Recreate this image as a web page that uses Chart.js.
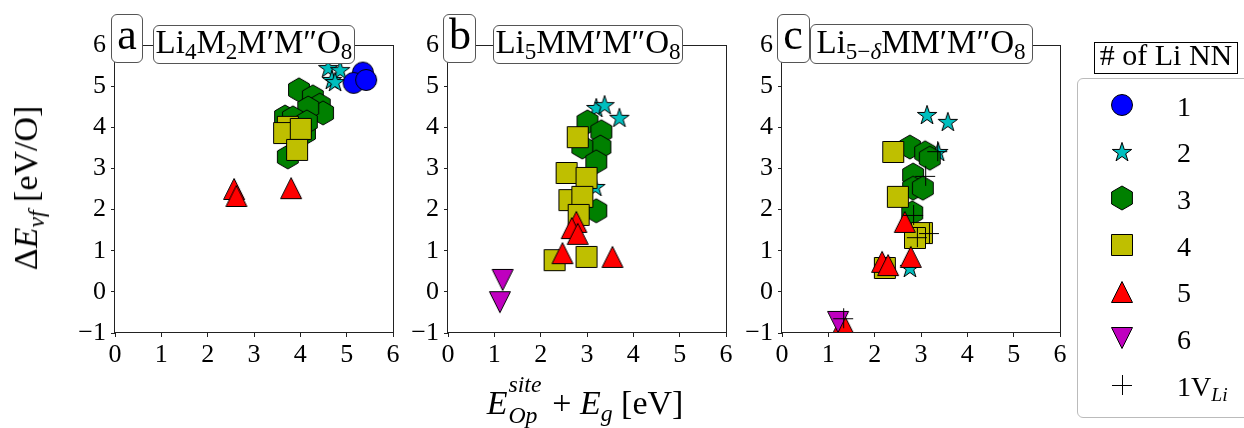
<!DOCTYPE html>
<html>
<head>
<meta charset="utf-8">
<script src="https://cdn.jsdelivr.net/npm/chart.js@4.4.1/dist/chart.umd.min.js"></script>
<style>
  html, body { margin: 0; padding: 0; background: #fff; }
  #fig { position: relative; width: 1244px; height: 428px; overflow: hidden; background: #fff;
         font-family: "Liberation Serif", "Times New Roman", serif; color: #000; }
  canvas.panel { position: absolute; top: 0; }
  .box { position: absolute; box-sizing: border-box; background: #fff; border: 1px solid #555; border-radius: 6px; }
  .txt { position: absolute; line-height: 1; white-space: nowrap; font-family: "Liberation Serif", serif; }
  .ctr { transform: translateX(-50%); }
  .sb { font-size: 0.7em; vertical-align: -0.28em; line-height: 0; }
  .it { font-style: italic; }
  .stack { position: relative; display: inline-block; vertical-align: top; height: 1em; width: 38px; }
  .stack > span { position: absolute; left: 1px; font-size: 0.7em; font-style: italic; line-height: 1; }
  .icon { position: absolute; }
</style>
</head>
<body>
<div id="fig">
  <canvas id="pa" class="panel"></canvas>
  <canvas id="pb" class="panel"></canvas>
  <canvas id="pc" class="panel"></canvas>

  <!-- panel tags and composition titles -->
  <div class="box" style="left:111px;top:14px;width:32px;height:49px;"></div>
  <div class="txt ctr" style="left:127px;top:13px;font-size:44px;">a</div>
  <div class="box" style="left:153px;top:25px;width:202px;height:39px;"></div>
  <div class="txt ctr" style="left:254px;top:26px;font-size:33px;">Li<span class="sb">4</span>M<span class="sb">2</span>M′M″O<span class="sb">8</span></div>

  <div class="box" style="left:443px;top:14px;width:33px;height:49px;"></div>
  <div class="txt ctr" style="left:460px;top:13px;font-size:44px;">b</div>
  <div class="box" style="left:493px;top:25px;width:190px;height:39px;"></div>
  <div class="txt ctr" style="left:588px;top:26px;font-size:33px;">Li<span class="sb">5</span>MM′M″O<span class="sb">8</span></div>

  <div class="box" style="left:777px;top:14px;width:33px;height:49px;"></div>
  <div class="txt ctr" style="left:793px;top:13px;font-size:44px;">c</div>
  <div class="box" style="left:810px;top:24px;width:223px;height:40px;"></div>
  <div class="txt ctr" style="left:921px;top:26px;font-size:33px;">Li<span class="sb">5−<i>δ</i></span>MM′M″O<span class="sb">8</span></div>

  <!-- axis titles -->
  <div class="txt" id="ylab" style="left:26px;top:188px;font-size:34px;transform:translate(-50%,-50%) rotate(-90deg);">Δ<span class="it">E</span><span class="sb it">vf</span> [eV/O]</div>
  <div class="txt ctr" style="left:585px;top:386px;font-size:34px;"><span class="it">E</span><span class="stack"><span style="top:-13px;">site</span><span style="top:18px;">Op</span></span>&#8201;+ <span class="it">E</span><span class="sb it">g</span> [eV]</div>

  <!-- legend -->
  <div class="box" style="left:1077px;top:78px;width:200px;height:340px;border-color:#bbb;"></div>
  <div class="box" style="left:1094px;top:42px;width:144px;height:32px;border-color:#000;border-radius:0;"></div>
  <div class="txt ctr" style="left:1166px;top:40px;font-size:30px;"># of Li NN</div>
  <div id="legend"></div>
</div>

<script>
// Li nearest-neighbour groups: [x, y] = [E_Op^site + E_g (eV), ΔE_vf (eV/O)]
const xTicks = [0, 1, 2, 3, 4, 5, 6];
const yTicks = [-1, 0, 1, 2, 3, 4, 5, 6];
const legendLabels = ['1', '2', '3', '4', '5', '6', '1V<span class="sb it">Li</span>'];

// (a) Li4M2M'M''O8
const nn1_a = [[5.35, 5.33], [5.15, 5.08], [5.42, 5.15]];
const nn2_a = [[4.60, 5.44], [4.86, 5.39], [4.68, 5.15], [4.75, 5.10]];
const nn3_a = [[3.97, 4.91], [4.27, 4.74], [4.42, 4.54], [4.49, 4.35], [4.17, 4.47],
               [3.67, 4.25], [3.84, 4.23], [4.10, 3.86], [3.73, 3.28], [4.14, 4.13]];
const nn4_a = [[3.73, 4.01], [3.65, 3.86], [4.01, 3.96], [3.93, 3.45]];
const nn5_a = [[2.57, 2.50], [2.62, 2.33], [3.80, 2.52]];

// (b) Li5MM'M''O8
const nn2_b = [[3.20, 4.47], [3.38, 4.54], [3.70, 4.23], [3.18, 2.55]];
const nn3_b = [[3.01, 4.13], [3.31, 3.89], [3.29, 3.52], [2.90, 3.52], [3.20, 3.16], [3.20, 1.97]];
const nn4_b = [[2.80, 3.76], [2.56, 2.89], [2.99, 2.77], [2.62, 2.23], [2.90, 2.31],
               [2.82, 1.87], [2.30, 0.77], [2.99, 0.85]];
const nn5_b = [[2.77, 1.70], [2.67, 1.55], [2.80, 1.41], [2.47, 0.94], [3.55, 0.85]];
const nn6_b = [[1.18, 0.29], [1.12, -0.25]];

// (c) Li(5-δ)MM'M''O8
const nn2_c = [[3.13, 4.30], [3.58, 4.13], [3.37, 3.40], [2.76, 0.58]];
const nn3_c = [[2.76, 3.52], [3.09, 3.38], [3.19, 3.25], [2.83, 2.84], [2.83, 2.52], [3.04, 2.52], [2.81, 1.92]];
const nn4_c = [[2.40, 3.40], [2.50, 2.31], [3.02, 1.43], [2.87, 1.31], [2.22, 0.58]];
const nn5_c = [[2.65, 1.70], [2.16, 0.73], [2.29, 0.65], [2.78, 0.85], [1.32, -0.76]];
const nn6_c = [[1.21, -0.73]];
const vLi_c = [[2.83, 1.87], [2.91, 1.33], [3.17, 1.43], [3.35, 3.42], [3.09, 2.82], [1.32, -0.64]];

const FONT = '"Liberation Serif", "Times New Roman", serif';

// Marker sprites (filled shape with a thin black edge)
function sprite(shape, fill) {
  const S = 28, c = document.createElement('canvas');
  c.width = S; c.height = S;
  const g = c.getContext('2d'), m = S / 2;
  g.beginPath();
  if (shape === 'circle') {
    g.arc(m, m, 10.5, 0, Math.PI * 2);
  } else if (shape === 'star') {
    const R = 10.2, r = R * 0.382;
    for (let i = 0; i < 10; i++) {
      const a = -Math.PI / 2 + i * Math.PI / 5, rr = i % 2 ? r : R;
      g.lineTo(m + rr * Math.cos(a), m + 0.6 + rr * Math.sin(a));
    }
    g.closePath();
  } else if (shape === 'hex') {
    const R = 12;
    for (let i = 0; i < 6; i++) {
      const a = -Math.PI / 2 + i * Math.PI / 3;
      g.lineTo(m + R * Math.cos(a), m + R * Math.sin(a));
    }
    g.closePath();
  } else if (shape === 'square') {
    g.rect(m - 10.5, m - 10.5, 21, 21);
  } else if (shape === 'tri') {
    g.moveTo(m, m - 10.5); g.lineTo(m + 10.5, m + 10.5); g.lineTo(m - 10.5, m + 10.5); g.closePath();
  } else if (shape === 'tridown') {
    g.moveTo(m, m + 10.5); g.lineTo(m + 10.5, m - 10.5); g.lineTo(m - 10.5, m - 10.5); g.closePath();
  } else if (shape === 'plus') {
    // pixel-aligned strokes keep the thin cross sharp
    g.moveTo(m - 10, m + 0.5); g.lineTo(m + 10, m + 0.5);
    g.moveTo(m + 0.5, m - 10); g.lineTo(m + 0.5, m + 10);
  }
  if (fill) { g.fillStyle = fill; g.fill(); }
  g.lineWidth = 1; g.strokeStyle = '#000'; g.stroke();
  return c;
}

// group styles: shape, face colour, drawing order (higher order sits underneath)
const groups = {
  nn1: { shape: 'circle',  fill: '#0000ff', order: 5 },
  nn2: { shape: 'star',    fill: '#00bfbf', order: 6 },
  nn3: { shape: 'hex',     fill: '#008000', order: 4 },
  nn4: { shape: 'square',  fill: '#bfbf00', order: 3 },
  nn5: { shape: 'tri',     fill: '#ff0000', order: 2 },
  nn6: { shape: 'tridown', fill: '#bf00bf', order: 1 },
  vLi: { shape: 'plus',    fill: null,      order: 0 }
};
for (const k in groups) groups[k].img = sprite(groups[k].shape, groups[k].fill);

function ds(key, pts) {
  const gp = groups[key];
  return {
    data: pts.map(p => ({ x: p[0], y: p[1] })),
    pointStyle: gp.img, pointRadius: 10, pointHoverRadius: 10,
    order: gp.order, showLine: false
  };
}

const frame = {
  id: 'frame',
  afterDatasetsDraw(chart) {
    const a = chart.chartArea, g = chart.ctx;
    g.save();
    g.strokeStyle = '#222'; g.lineWidth = 1;
    const l = Math.round(a.left) - 0.5, t = Math.round(a.top) + 0.5;
    const r = Math.round(a.right) + 0.5, b = Math.round(a.bottom) - 0.5;
    g.strokeRect(l, t, r - l, b - t);
    g.restore();
  }
};

const AXW = 80, PLOTW = 278, PADR = 20;
function panel(id, plotLeft, datasets) {
  const cv = document.getElementById(id);
  cv.width = AXW + PLOTW + PADR; cv.height = 428;
  cv.style.left = (plotLeft - AXW) + 'px';
  const tickFont = { family: FONT, size: 26 };
  const gridOpts = { drawOnChartArea: false, drawTicks: true, tickLength: 4, color: '#222', lineWidth: 1 };
  new Chart(cv, {
    type: 'scatter',
    data: { datasets },
    options: {
      responsive: false, animation: false, devicePixelRatio: 1, events: [],
      layout: { padding: { top: 45, right: PADR, bottom: 55, left: 0 } },
      plugins: { legend: { display: false }, tooltip: { enabled: false } },
      scales: {
        x: {
          type: 'linear', min: xTicks[0], max: xTicks[xTicks.length - 1],
          afterBuildTicks: s => { s.ticks = xTicks.map(v => ({ value: v })); },
          ticks: { font: tickFont, color: '#000', padding: 3, maxRotation: 0, autoSkip: false },
          grid: gridOpts, border: { display: false },
          afterFit: s => { s.height = 40; }
        },
        y: {
          type: 'linear', min: yTicks[0], max: yTicks[yTicks.length - 1],
          afterBuildTicks: s => { s.ticks = yTicks.map(v => ({ value: v })); },
          ticks: { font: tickFont, color: '#000', padding: 5, autoSkip: false,
                   callback: v => (v < 0 ? '\u2212' + Math.abs(v) : String(v)) },
          grid: gridOpts, border: { display: false },
          afterFit: s => { s.width = AXW; }
        }
      }
    },
    plugins: [frame]
  });
}

panel('pa', 115, [ds('nn1', nn1_a), ds('nn2', nn2_a), ds('nn3', nn3_a), ds('nn4', nn4_a), ds('nn5', nn5_a)]);
panel('pb', 448, [ds('nn2', nn2_b), ds('nn3', nn3_b), ds('nn4', nn4_b), ds('nn5', nn5_b), ds('nn6', nn6_b)]);
panel('pc', 782, [ds('nn2', nn2_c), ds('nn3', nn3_c), ds('nn4', nn4_c), ds('nn5', nn5_c), ds('nn6', nn6_c), ds('vLi', vLi_c)]);

// legend rows
const leg = document.getElementById('legend');
['nn1', 'nn2', 'nn3', 'nn4', 'nn5', 'nn6', 'vLi'].forEach((k, i) => {
  const cy = 105 + i * 46.67;
  const ic = sprite(groups[k].shape, groups[k].fill);
  ic.className = 'icon';
  ic.style.left = (1122 - 14) + 'px';
  ic.style.top = Math.round(cy - 14) + 'px';
  leg.appendChild(ic);
  const t = document.createElement('div');
  t.className = 'txt';
  t.style.left = '1177px';
  t.style.fontSize = '28px';
  t.style.top = (cy + 11 - 0.8375 * 28) + 'px';
  t.innerHTML = legendLabels[i];
  leg.appendChild(t);
});
</script>
</body>
</html>
